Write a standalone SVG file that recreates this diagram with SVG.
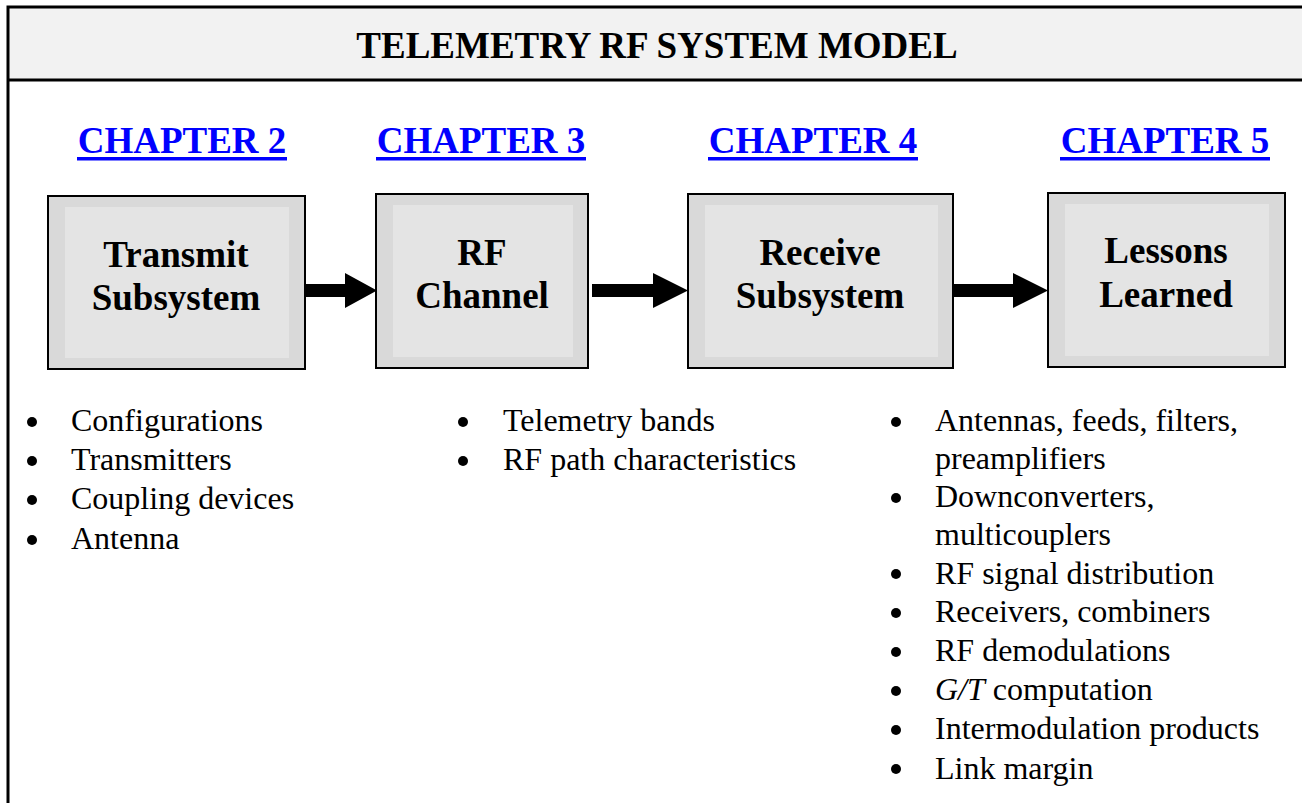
<svg xmlns="http://www.w3.org/2000/svg" width="1302" height="803" viewBox="0 0 1302 803">
  <style>
    .title { font-family: "Liberation Serif", "Times New Roman", serif; font-weight: bold; font-size: 37px; fill: #000; text-anchor: middle; }
    .chap { font-family: "Liberation Serif", "Times New Roman", serif; font-weight: bold; font-size: 37px; fill: #0000ff; text-anchor: middle; }
    .ul { fill: #0000ff; }
    .box-outer { fill: #d9d9d9; stroke: #000; stroke-width: 2; }
    .box-inner { fill: #e4e4e4; }
    .label { font-family: "Liberation Serif", "Times New Roman", serif; font-weight: bold; font-size: 37px; fill: #000; text-anchor: middle; }
    .item { font-family: "Liberation Serif", "Times New Roman", serif; font-size: 32px; fill: #000; }
    .dot { fill: #000; }
    .arrow { fill: #000; }
  </style>

  <!-- page background and frame -->
  <rect x="0" y="0" width="1302" height="803" fill="#ffffff"/>
  <rect x="8" y="7" width="1300" height="73" fill="#f2f2f2"/>
  <path d="M8 810 V7 H1310 M8 80 H1310" fill="none" stroke="#000" stroke-width="3"/>
  <text class="title" x="657" y="58">TELEMETRY RF SYSTEM MODEL</text>

  <!-- chapter links -->
  <g id="chapter-links">
    <text class="chap" x="182" y="153">CHAPTER 2</text>
    <rect class="ul" x="77" y="157" width="210" height="3.5"/>
    <text class="chap" x="481" y="153">CHAPTER 3</text>
    <rect class="ul" x="376" y="157" width="210" height="3.5"/>
    <text class="chap" x="813" y="153">CHAPTER 4</text>
    <rect class="ul" x="708" y="157" width="210" height="3.5"/>
    <text class="chap" x="1165" y="153">CHAPTER 5</text>
    <rect class="ul" x="1060" y="157" width="210" height="3.5"/>
  </g>

  <!-- blocks -->
  <g id="transmit-subsystem">
    <rect class="box-outer" x="48" y="196" width="257" height="173"/>
    <rect class="box-inner" x="65" y="207" width="224" height="151"/>
    <text class="label" x="176" y="267">Transmit</text>
    <text class="label" x="176" y="310">Subsystem</text>
  </g>
  <g id="rf-channel">
    <rect class="box-outer" x="376" y="194" width="212" height="174"/>
    <rect class="box-inner" x="393" y="205" width="180" height="152"/>
    <text class="label" x="482" y="265">RF</text>
    <text class="label" x="482" y="308">Channel</text>
  </g>
  <g id="receive-subsystem">
    <rect class="box-outer" x="688" y="194" width="265" height="174"/>
    <rect class="box-inner" x="705" y="205" width="233" height="152"/>
    <text class="label" x="820" y="265">Receive</text>
    <text class="label" x="820" y="308">Subsystem</text>
  </g>
  <g id="lessons-learned">
    <rect class="box-outer" x="1048" y="193" width="237" height="174"/>
    <rect class="box-inner" x="1065" y="204" width="204" height="152"/>
    <text class="label" x="1166" y="263">Lessons</text>
    <text class="label" x="1166" y="307">Learned</text>
  </g>

  <!-- block arrows -->
  <g id="connectors">
    <path class="arrow" d="M305 284 H345 V273 L377 290.5 L345 308 V297 H305 Z"/>
    <path class="arrow" d="M592 284 H653 V273 L688 290.5 L653 308 V297 H592 Z"/>
    <path class="arrow" d="M953 284 H1013 V273 L1048 290.5 L1013 308 V297 H953 Z"/>
  </g>

  <!-- transmit topics -->
  <g id="list-transmit">
    <circle class="dot" cx="32" cy="422" r="5"/>
    <text class="item" x="71" y="431">Configurations</text>
    <circle class="dot" cx="32" cy="461" r="5"/>
    <text class="item" x="71" y="470">Transmitters</text>
    <circle class="dot" cx="32" cy="500" r="5"/>
    <text class="item" x="71" y="509">Coupling devices</text>
    <circle class="dot" cx="32" cy="540" r="5"/>
    <text class="item" x="71" y="549">Antenna</text>
  </g>

  <!-- channel topics -->
  <g id="list-channel">
    <circle class="dot" cx="463" cy="422" r="5"/>
    <text class="item" x="503" y="431">Telemetry bands</text>
    <circle class="dot" cx="463" cy="461" r="5"/>
    <text class="item" x="503" y="470">RF path characteristics</text>
  </g>

  <!-- receive topics -->
  <g id="list-receive">
    <circle class="dot" cx="896" cy="422" r="5"/>
    <text class="item" x="935" y="431">Antennas, feeds, filters,</text>
    <text class="item" x="935" y="469">preamplifiers</text>
    <circle class="dot" cx="896" cy="498" r="5"/>
    <text class="item" x="935" y="507">Downconverters,</text>
    <text class="item" x="935" y="545">multicouplers</text>
    <circle class="dot" cx="896" cy="574" r="5"/>
    <text class="item" x="935" y="584">RF signal distribution</text>
    <circle class="dot" cx="896" cy="613" r="5"/>
    <text class="item" x="935" y="622">Receivers, combiners</text>
    <circle class="dot" cx="896" cy="652" r="5"/>
    <text class="item" x="935" y="661">RF demodulations</text>
    <circle class="dot" cx="896" cy="691" r="5"/>
    <text class="item" x="935" y="700"><tspan font-style="italic">G/T</tspan> computation</text>
    <circle class="dot" cx="896" cy="730" r="5"/>
    <text class="item" x="935" y="739">Intermodulation products</text>
    <circle class="dot" cx="896" cy="769" r="5"/>
    <text class="item" x="935" y="779">Link margin</text>
  </g>
</svg>
